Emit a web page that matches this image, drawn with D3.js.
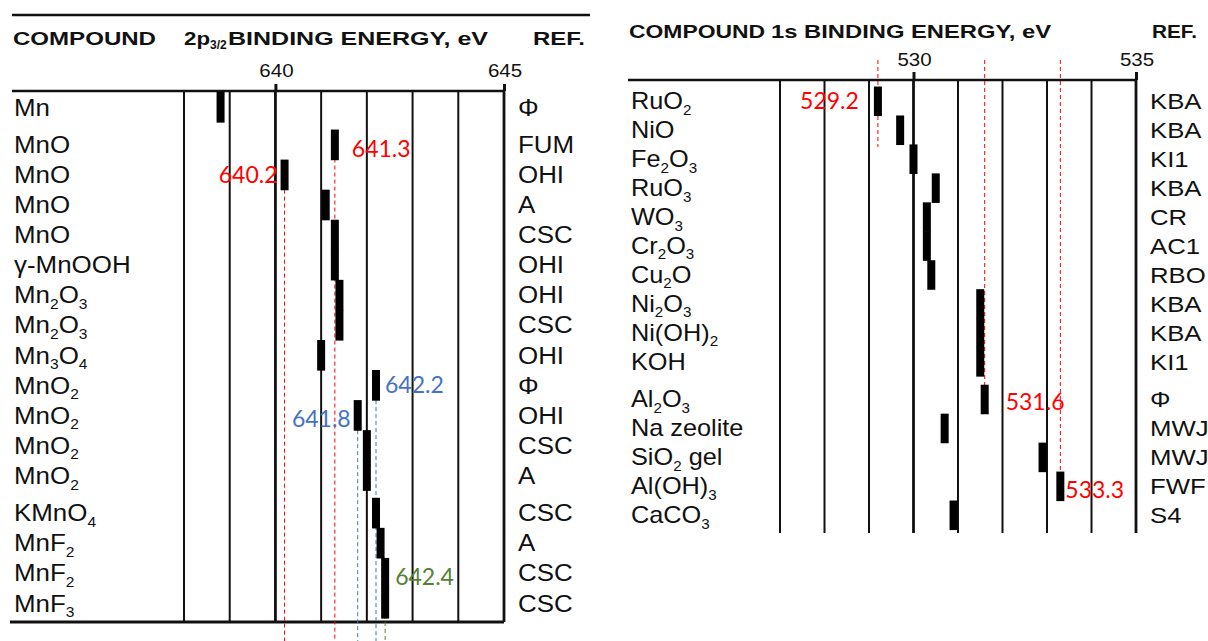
<!DOCTYPE html>
<html><head><meta charset="utf-8">
<script src="https://cdn.jsdelivr.net/npm/d3@7"></script>
<style>
body{margin:0;background:#fff}
svg{display:block}
text{font-family:"Liberation Sans",Arial,sans-serif;fill:#111}
.note{font-family:Lato,"Open Sans",sans-serif}
</style></head>
<body>
<svg id="chart" width="1208" height="641"></svg>
<script>
// ---------- DATA: Mn 2p3/2 table ----------
const mnCompounds = ["Mn","MnO","MnO","MnO","MnO","γ-MnOOH","Mn_2O_3","Mn_2O_3","Mn_3O_4","MnO_2","MnO_2","MnO_2","MnO_2","KMnO_4","MnF_2","MnF_2","MnF_3"];
const mnEnergy    = [638.8,641.3,640.2,641.1,641.3,641.3,641.4,641.4,641.0,642.2,641.8,642.0,642.0,642.2,642.3,642.4,642.4];
const mnRef       = ["Φ","FUM","OHI","A","CSC","OHI","OHI","CSC","OHI","Φ","OHI","CSC","A","CSC","A","CSC","CSC"];
const mnGroup     = [0,1,1,1,1,1,1,1,1,1,1,1,1,2,2,2,2];
const mnTicks     = [640,645];
const mnGrid      = [638,639,640,641,642,643,644,645];
const mnHighlight = [2,1,10,9,15];   // rows whose values are annotated

// ---------- DATA: O 1s table ----------
const oCompounds = ["RuO_2","NiO","Fe_2O_3","RuO_3","WO_3","Cr_2O_3","Cu_2O","Ni_2O_3","Ni(OH)_2","KOH","Al_2O_3","Na zeolite","SiO_2 gel","Al(OH)_3","CaCO_3"];
const oEnergy    = [529.2,529.7,530.0,530.5,530.3,530.3,530.4,531.5,531.5,531.5,531.6,530.7,532.9,533.3,530.9];
const oRef       = ["KBA","KBA","KI1","KBA","CR","AC1","RBO","KBA","KBA","KI1","Φ","MWJ","MWJ","FWF","S4"];
const oGroup     = [0,0,0,0,0,0,0,0,0,0,1,1,1,1,1];
const oTicks     = [530,535];
const oGrid      = [527,528,529,530,531,532,533,534,535];
const oHighlight = [0,10,13];

// ---------- helpers ----------
const svg = d3.select("#chart");
const INK = "#111";

function richText(sel, str, x, y, size, sx, anchor) {
  const t = sel.append("text")
    .attr("transform", `translate(${x},${y}) scale(${sx},1)`)
    .attr("font-size", size)
    .attr("text-anchor", anchor || "start");
  const parts = str.split(/(_\d+)/).filter(p => p.length);
  let shifted = false;
  const sh = size * 0.24;
  parts.forEach(p => {
    if (p[0] === "_") {
      t.append("tspan").attr("font-size", size * 0.6).attr("dy", sh).text(p.slice(1));
      shifted = true;
    } else {
      const ts = t.append("tspan").text(p);
      if (shifted) { ts.attr("dy", -sh); shifted = false; }
    }
  });
  return t;
}

function hline(g, x1, x2, y, w) {
  g.append("line").attr("x1", x1).attr("x2", x2).attr("y1", y).attr("y2", y)
    .attr("stroke", INK).attr("stroke-width", w);
}

function panel(cfg) {
  const g = svg.append("g");
  const x = d3.scaleLinear().domain(cfg.domain).range(cfg.xRange);
  const slots = cfg.compounds.map((c, i) => i + cfg.gap * cfg.group[i]);
  const y = d3.scaleLinear().domain([0, d3.max(slots)]).range(cfg.yRange);
  const step = y(1) - y(0);

  // header
  if (cfg.topRule) hline(g, cfg.topRule[0], cfg.topRule[1], cfg.topRule[2], 2.6);
  cfg.header.forEach(h => {
    g.append("text").attr("x", h.x).attr("y", cfg.headerY)
      .attr("font-size", 18).attr("font-weight", "bold")
      .attr("textLength", h.w).attr("lengthAdjust", "spacingAndGlyphs").text(h.t);
    if (h.sub) {
      g.append("text").attr("x", h.subX).attr("y", cfg.headerY + 4)
        .attr("font-size", 12).attr("font-weight", "bold").text(h.sub);
    }
  });

  // axis ticks (d3 axis) and tick labels
  const axis = d3.axisTop(x).tickValues(cfg.ticks).tickSize(cfg.tickLen).tickFormat(d3.format("d"));
  const ag = g.append("g").attr("transform", `translate(0,${cfg.axisY})`).call(axis);
  ag.select(".domain").remove();
  ag.selectAll(".tick line").attr("stroke", INK).attr("stroke-width", 3);
  ag.selectAll(".tick text").remove();
  cfg.ticks.forEach(v => {
    g.append("text").attr("transform", `translate(${x(v) + 1},${cfg.tickLabelY}) scale(1.08,1)`)
      .attr("text-anchor", "middle").attr("font-size", 19).text(v);
  });

  // grid lines
  g.append("g").selectAll("line").data(cfg.grid).join("line")
    .attr("x1", d => x(d)).attr("x2", d => x(d))
    .attr("y1", cfg.axisY).attr("y2", cfg.gridBottom)
    .attr("stroke", INK)
    .attr("stroke-width", d => (cfg.ticks.includes(d) ? 2.8 : 2));

  // axis rule & bottom rule
  hline(g, cfg.ruleX[0], cfg.ruleX[1], cfg.axisY, 2.6);
  if (cfg.bottomRule) hline(g, cfg.bottomRule[0], cfg.bottomRule[1], cfg.gridBottom, 3);

  // annotation dashed lines (beneath bars)
  cfg.notes.forEach(n => {
    const v = cfg.values[n.row];
    const y1 = n.from === "top" ? n.fromY : y(slots[n.row]) + (n.from === "below" ? step / 2 : 0);
    const y2 = n.toY != null ? n.toY : 641;
    g.append("line").attr("x1", x(v)).attr("x2", x(v)).attr("y1", y1).attr("y2", y2)
      .attr("stroke", n.color).attr("stroke-width", 1).attr("stroke-dasharray", "4,3");
  });

  // bars (consecutive rows touch, like the printed table)
  g.append("g").selectAll("rect").data(cfg.values).join("rect")
    .attr("x", d => x(d) - 4)
    .attr("width", 8)
    .attr("y", (d, i) => y(slots[i]) - step / 2)
    .attr("height", step + 0.6)
    .attr("fill", "#000");

  // row labels & refs
  cfg.compounds.forEach((c, i) => {
    richText(g, c, cfg.labelX, y(slots[i]) + cfg.baseOff, cfg.fs, cfg.sx, "start");
    richText(g, cfg.refs[i], cfg.refX, y(slots[i]) + cfg.baseOff, cfg.fs, cfg.refSx, "start");
  });

  // annotation labels
  cfg.notes.forEach(n => {
    const v = cfg.values[n.row];
    const tx = n.side === "left" ? x(v) - 7 : x(v) + 8;
    g.append("text").attr("class", "note")
      .attr("x", tx + (n.dx || 0)).attr("y", y(slots[n.row]) + 8 + (n.dy || 0))
      .attr("text-anchor", n.side === "left" ? "end" : "start")
      .attr("font-size", 23).style("fill", n.color).text(v.toFixed(1));
  });
}

const RED = "#ff0000", BLUE = "#4472c4", GREEN = "#538135";

panel({
  domain: [638, 645], xRange: [184, 504], yRange: [107, 603], gap: 0.25,
  compounds: mnCompounds, values: mnEnergy, refs: mnRef, group: mnGroup,
  ticks: mnTicks, grid: mnGrid, tickLen: 7, axisY: 91, tickLabelY: 77, gridBottom: 622,
  topRule: [12, 590, 15], ruleX: [12, 504], bottomRule: [10, 504],
  headerY: 45,
  header: [
    { t: "COMPOUND", x: 13, w: 143 },
    { t: "2p", x: 184, w: 26, sub: "3/2", subX: 210 },
    { t: "BINDING ENERGY, eV", x: 228, w: 260 },
    { t: "REF.", x: 533, w: 52 }
  ],
  labelX: 14, refX: 518, fs: 24, sx: 1.08, refSx: 1.08, baseOff: 8.5,
  notes: [
    { row: mnHighlight[0], color: RED, side: "left", from: "below" },
    { row: mnHighlight[1], color: RED, side: "right", from: "center", dx: 9, dy: 4 },
    { row: mnHighlight[2], color: BLUE, side: "left", from: "below", dy: 4 },
    { row: mnHighlight[3], color: BLUE, side: "right", from: "below", dx: 1 },
    { row: mnHighlight[4], color: GREEN, side: "right", from: "center", dx: 2, dy: 4 }
  ]
});

panel({
  domain: [527, 535], xRange: [780, 1136], yRange: [101, 515], gap: 0.3,
  compounds: oCompounds, values: oEnergy, refs: oRef, group: oGroup,
  ticks: oTicks, grid: oGrid, tickLen: 8, axisY: 80, tickLabelY: 66, gridBottom: 533,
  topRule: null, ruleX: [628, 1136], bottomRule: null,
  headerY: 38,
  header: [
    { t: "COMPOUND", x: 629, w: 136 },
    { t: "1s BINDING ENERGY, eV", x: 771, w: 280 },
    { t: "REF.", x: 1152, w: 45 }
  ],
  labelX: 631, refX: 1150, fs: 23, sx: 1.1, refSx: 1.12, baseOff: 8.2,
  notes: [
    { row: oHighlight[0], color: RED, side: "left", from: "top", fromY: 60, toY: 147, dx: -12 },
    { row: oHighlight[1], color: RED, side: "right", from: "top", fromY: 60, toY: 390, dx: 13, dy: 3 },
    { row: oHighlight[2], color: RED, side: "right", from: "top", fromY: 60, toY: 477, dx: -3, dy: 4 }
  ]
});
</script>
</body></html>
